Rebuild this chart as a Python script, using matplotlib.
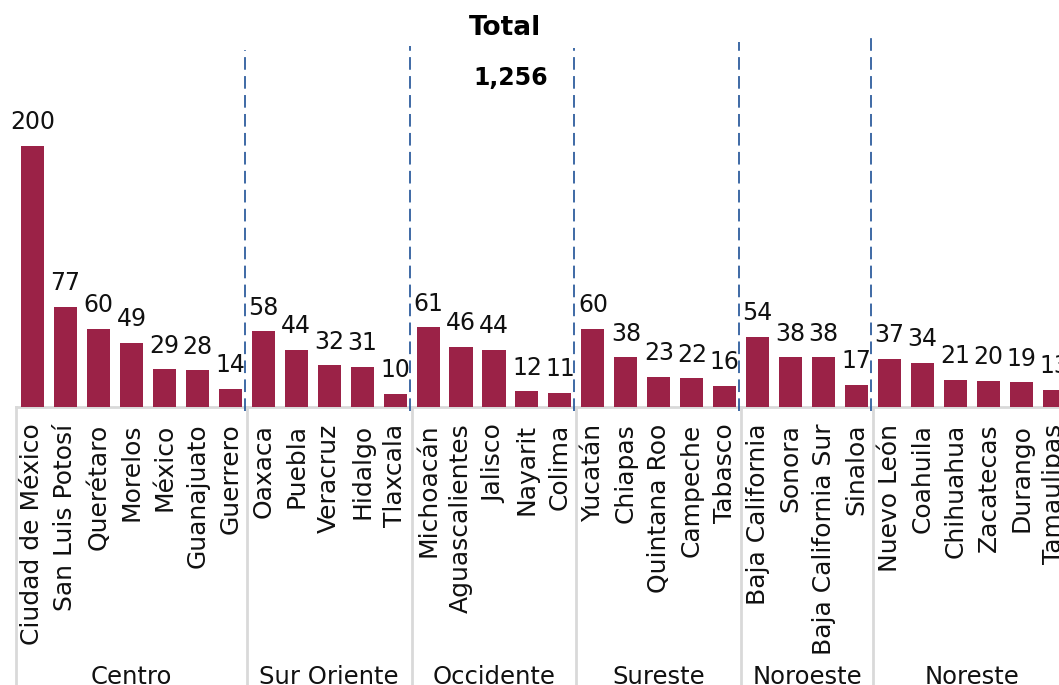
import matplotlib
matplotlib.use("Agg")

import matplotlib.pyplot as plt
from matplotlib.transforms import blended_transform_factory

# data
regions = ["Centro", "Sur Oriente", "Occidente", "Sureste", "Noroeste", "Noreste"]
states = [
    ["Ciudad de México", "San Luis Potosí", "Querétaro", "Morelos", "México",
     "Guanajuato", "Guerrero"],
    ["Oaxaca", "Puebla", "Veracruz", "Hidalgo", "Tlaxcala"],
    ["Michoacán", "Aguascalientes", "Jalisco", "Nayarit", "Colima"],
    ["Yucatán", "Chiapas", "Quintana Roo", "Campeche", "Tabasco"],
    ["Baja California", "Sonora", "Baja California Sur", "Sinaloa"],
    ["Nuevo León", "Coahuila", "Chihuahua", "Zacatecas", "Durango", "Tamaulipas"],
]
values = [
    [200, 77, 60, 49, 29, 28, 14],
    [58, 44, 32, 31, 10],
    [61, 46, 44, 12, 11],
    [60, 38, 23, 22, 16],
    [54, 38, 38, 17],
    [37, 34, 21, 20, 19, 13],
]
total_label = "1,256"

BAR = "#9B2247"
GRID = "#d9d9d9"
DASH = "#2F5E9E"
W, H = 1059, 685

plt.rcParams["font.family"] = ["DejaVu Sans"]

fig = plt.figure(figsize=(W / 100, H / 100), dpi=100)
ax = fig.add_axes([16 / W, 278 / H, 1 - 16 / W, 407 / H])

labels = [s for grp in states for s in grp]
vals = [v for grp in values for v in grp]
xs = list(range(len(vals)))

ax.bar(xs, vals, width=0.7, color=BAR, zorder=3)
for x, v in zip(xs, vals):
    ax.annotate(str(v), (x, v), xytext=(0, 12), textcoords="offset points",
                ha="center", va="baseline", fontsize=17, color="#111111")

ax.set_xlim(-0.5, 31.14)
ax.set_ylim(0, 312)
ax.set_xticks(xs)
ax.set_xticklabels(labels, rotation=90, fontsize=18, color="#111111")
ax.tick_params(axis="x", length=0, pad=12)
ax.set_yticks([])
for sp in ax.spines.values():
    sp.set_visible(False)

# baseline + group dividers below the axis
ax.axhline(0, color=GRID, lw=2, zorder=2, clip_on=False)
xt = ax.get_xaxis_transform()
start = 0
bounds = []
for grp in states:
    bounds.append(start - 0.5)
    start += len(grp)
for b in bounds:
    ax.plot([b, b], [0, -1], color=GRID, lw=2, transform=xt, clip_on=False)

# dashed separators in the plot area (tops differ slightly in the original)
dash_tops = [274, 277, 275, 280, 285]
for b, top in zip(bounds[1:], dash_tops):
    ax.plot([b - 0.06, b - 0.06], [-3, top], color=DASH, lw=1.3,
            ls=(0, (7, 3.5)), clip_on=False, zorder=4)

# region names
tf = blended_transform_factory(ax.transData, fig.transFigure)
start = 0
for name, grp in zip(regions, states):
    mid = start + (len(grp) - 1) / 2
    ax.text(mid, 1 / H, name, transform=tf, ha="center", va="baseline",
            fontsize=17.5, color="#111111")
    start += len(grp)

fig.text(505 / W, 1 - 35 / H, "Total", ha="center", va="baseline",
         fontsize=19, fontweight="bold")
fig.text(548 / W, 1 - 85 / H, total_label, ha="right", va="baseline",
         fontsize=17, fontweight="bold")

fig.savefig("out.png", dpi=100)
